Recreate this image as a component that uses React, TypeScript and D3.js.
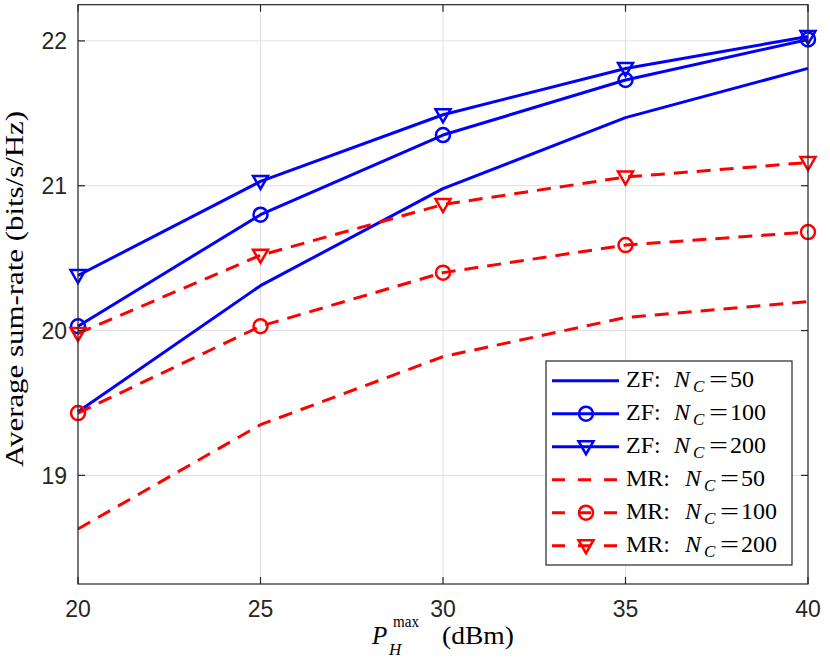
import React from "react";
import * as d3 from "d3";

const xValues = [20, 25, 30, 35, 40];
const zf50 = [19.44, 20.31, 20.98, 21.47, 21.81];
const zf100 = [20.03, 20.8, 21.35, 21.73, 22.01];
const zf200 = [20.38, 21.03, 21.49, 21.81, 22.03];
const mr50 = [18.63, 19.35, 19.82, 20.09, 20.2];
const mr100 = [19.43, 20.03, 20.4, 20.59, 20.68];
const mr200 = [19.98, 20.52, 20.87, 21.06, 21.16];
const xTicks = [20, 25, 30, 35, 40];
const yTicks = [19, 20, 21, 22];

type Series = { prefix: string; nc: string; values: number[]; color: string; dashed: boolean; marker: "none" | "circle" | "tri" };

const series: Series[] = [
  { prefix: "ZF:", nc: "50", values: zf50, color: "#0000ff", dashed: false, marker: "none" },
  { prefix: "ZF:", nc: "100", values: zf100, color: "#0000ff", dashed: false, marker: "circle" },
  { prefix: "ZF:", nc: "200", values: zf200, color: "#0000ff", dashed: false, marker: "tri" },
  { prefix: "MR:", nc: "50", values: mr50, color: "#ff0000", dashed: true, marker: "none" },
  { prefix: "MR:", nc: "100", values: mr100, color: "#ff0000", dashed: true, marker: "circle" },
  { prefix: "MR:", nc: "200", values: mr200, color: "#ff0000", dashed: true, marker: "tri" },
];

const W = 830, H = 664;
const L = 78, R = 808, T = 4.7, B = 584;
const serif = "'Liberation Serif', 'DejaVu Serif', serif";
const sans = "'Liberation Sans', Arial, sans-serif";

function Marker({ kind, x, y, color }: { kind: string; x: number; y: number; color: string }) {
  if (kind === "circle") return <circle cx={x} cy={y} r={7} fill="none" stroke={color} strokeWidth={2.5} />;
  if (kind === "tri") {
    const p = `${x - 7.5},${y - 5.5} ${x + 7.5},${y - 5.5} ${x},${y + 7.5}`;
    return <polygon points={p} fill="none" stroke={color} strokeWidth={2.5} strokeLinejoin="miter" />;
  }
  return null;
}

export default function App() {
  const x = d3.scaleLinear().domain([20, 40]).range([L, R]);
  const y = d3.scaleLinear().domain([18.25, 22.25]).range([B, T]);
  const line = d3.line<number>().x((_, i) => x(xValues[i])).y((d) => y(d));
  const axisColor = "#262626";
  const tickLen = 7;
  const legX = 546, legY = 361, legW = 246, legH = 204;
  const rowY = (i: number) => 380.7 + i * 33;

  return (
    <svg width={W} height={H} style={{ position: "absolute", left: 0, top: 0, background: "#fff" }}>
      <rect x={0} y={0} width={W} height={H} fill="#fff" />
      {/* grid */}
      {xTicks.map((t) => (
        <line key={"gx" + t} x1={x(t)} x2={x(t)} y1={T} y2={B} stroke="#dfdfdf" strokeWidth={1} />
      ))}
      {yTicks.map((t) => (
        <line key={"gy" + t} x1={L} x2={R} y1={y(t)} y2={y(t)} stroke="#dfdfdf" strokeWidth={1} />
      ))}
      {/* series */}
      {series.map((s, si) => (
        <g key={"s" + si}>
          <path d={line(s.values) || ""} fill="none" stroke={s.color} strokeWidth={3}
            strokeDasharray={s.dashed ? "14 9" : undefined} strokeLinejoin="round" />
          {s.values.map((v, i) => (
            <Marker key={i} kind={s.marker} x={x(xValues[i])} y={y(v)} color={s.color} />
          ))}
        </g>
      ))}
      {/* axes box */}
      <rect x={L} y={T} width={R - L} height={B - T} fill="none" stroke={axisColor} strokeWidth={1.2} />
      {xTicks.map((t) => (
        <g key={"xt" + t}>
          <line x1={x(t)} x2={x(t)} y1={B} y2={B - tickLen} stroke={axisColor} strokeWidth={1.2} />
          <line x1={x(t)} x2={x(t)} y1={T} y2={T + tickLen} stroke={axisColor} strokeWidth={1.2} />
          <text x={x(t)} y={B + 33} textAnchor="middle" fontFamily={sans} fontSize={23} fill={axisColor}>{t}</text>
        </g>
      ))}
      {yTicks.map((t) => (
        <g key={"yt" + t}>
          <line x1={L} x2={L + tickLen} y1={y(t)} y2={y(t)} stroke={axisColor} strokeWidth={1.2} />
          <line x1={R} x2={R - tickLen} y1={y(t)} y2={y(t)} stroke={axisColor} strokeWidth={1.2} />
          <text x={L - 11} y={y(t)} dy="0.36em" textAnchor="end" fontFamily={sans} fontSize={23} fill={axisColor}>{t}</text>
        </g>
      ))}
      {/* x axis label */}
      <g fontFamily={serif} fill="#000">
        <text x={372} y={644} fontSize={25} fontStyle="italic">P</text>
        <text x={389} y={655} fontSize={17} fontStyle="italic">H</text>
        <text x={393} y={627} fontSize={16} textLength={26} lengthAdjust="spacingAndGlyphs">max</text>
        <text x={442} y={644} fontSize={25} textLength={72} lengthAdjust="spacingAndGlyphs">(dBm)</text>
      </g>
      {/* y axis label */}
      <text transform={`translate(23,289) rotate(-90)`} textAnchor="middle" fontFamily={serif} fontSize={25}
        fill="#000" textLength={356} lengthAdjust="spacingAndGlyphs">
        Average sum-rate (bits/s/Hz)
      </text>
      {/* legend */}
      <rect x={legX} y={legY} width={legW} height={legH} fill="#fff" stroke={axisColor} strokeWidth={1.2} />
      {series.map((s, i) => {
        const ry = rowY(i);
        const nx = s.prefix === "ZF:" ? 674 : 685;
        return (
          <g key={"lg" + i}>
            <line x1={552} x2={619} y1={ry} y2={ry} stroke={s.color} strokeWidth={3}
              strokeDasharray={s.dashed ? "13 13" : undefined} />
            <Marker kind={s.marker} x={586} y={ry} color={s.color} />
            <g fontFamily={serif} fill="#000">
              <text x={626} y={ry + 6} fontSize={24}>{s.prefix}</text>
              <text x={nx} y={ry + 6} fontSize={24} fontStyle="italic">N</text>
              <text x={nx + 19} y={ry + 11} fontSize={17} fontStyle="italic">C</text>
              <text x={nx + 35} y={ry + 6} fontSize={24} textLength={19} lengthAdjust="spacingAndGlyphs">=</text>
              <text x={nx + 56} y={ry + 6} fontSize={24}>{s.nc}</text>
            </g>
          </g>
        );
      })}
    </svg>
  );
}
